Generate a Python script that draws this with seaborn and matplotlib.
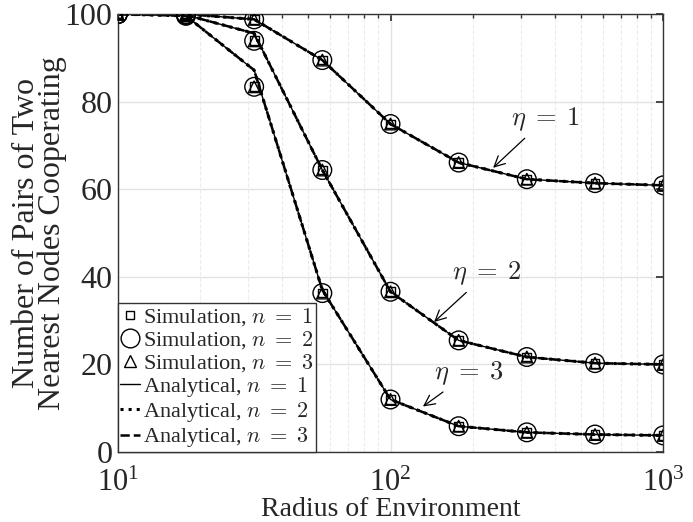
import numpy as np
import pandas as pd
import matplotlib
matplotlib.use("Agg")
import matplotlib.pyplot as plt
import seaborn as sns
from matplotlib.lines import Line2D

# ---- data ----
radius = [10, 17.78, 31.62, 56.23, 100, 177.8, 316.2, 562.3, 1000]
sim_eta1 = [100, 100, 98.8, 89.5, 74.9, 66.1, 62.3, 61.4, 60.9]
sim_eta2 = [100, 99.8, 93.9, 64.4, 36.6, 25.5, 21.7, 20.3, 20.0]
sim_eta3 = [100, 99.6, 83.4, 36.3, 12.0, 5.9, 4.5, 4.0, 3.8]
ana_eta1 = [100, 100, 98.8, 89.5, 74.9, 66.1, 62.3, 61.4, 60.9]
ana_eta2 = [100, 99.8, 95.6, 64.4, 36.6, 25.5, 21.7, 20.3, 20.0]
ana_eta3 = [100, 99.6, 87.2, 37.0, 12.0, 5.9, 4.5, 4.0, 3.8]
eta_labels = [r"$\eta\;=\;1$", r"$\eta\;=\;2$", r"$\eta\;=\;3$"]
sim_labels = [r"Simulation, $n\;=\;1$", r"Simulation, $n\;=\;2$", r"Simulation, $n\;=\;3$"]
ana_labels = [r"Analytical, $n\;=\;1$", r"Analytical, $n\;=\;2$", r"Analytical, $n\;=\;3$"]

sns.set_theme(style="white")
plt.rcParams['font.family'] = ['Liberation Serif', 'DejaVu Serif']
plt.rcParams['mathtext.fontset'] = 'cm'

fig = plt.figure(figsize=(6.93, 5.22), dpi=100)
ax = fig.add_axes([0.170, 0.134, 0.787, 0.839])

sims = [sim_eta1, sim_eta2, sim_eta3]
anas = [ana_eta1, ana_eta2, ana_eta3]
markers = ['s', 'o', '^']
msizes = [40, 180, 70]
lstyles = ['-', ':', '--']
lwidths = [1.0, 2.2, 1.8]

for s, a in zip(sims, anas):
    df_a = pd.DataFrame({'x': radius, 'y': a})
    for ls, lw in zip(lstyles, lwidths):
        sns.lineplot(data=df_a, x='x', y='y', ax=ax, color='black',
                     linestyle=ls, linewidth=lw, legend=False)
    df_s = pd.DataFrame({'x': radius, 'y': s})
    for m, ms in zip(markers, msizes):
        sns.scatterplot(data=df_s, x='x', y='y', ax=ax, marker=m, s=ms,
                        facecolor='none', edgecolor='black', linewidth=1.0,
                        legend=False, zorder=3)

ax.set_xscale('log')
ax.set_xlim(10, 1000)
ax.set_ylim(0, 100)
ax.set_yticks([0, 20, 40, 60, 80, 100])
ax.grid(True, which='major', color='#e3e3e3', linewidth=1.0, linestyle='-')
ax.grid(True, which='minor', color='#ececec', linewidth=0.8, linestyle='--')
ax.tick_params(axis='both', which='both', direction='in', top=True, right=True,
               color='#333333')
ax.tick_params(axis='y', which='major', pad=4, labelsize=23)
ax.tick_params(axis='x', which='major', pad=12, labelsize=22)
ax.tick_params(which='major', length=5)
ax.tick_params(which='minor', length=3)
for sp in ax.spines.values():
    sp.set_color('#333333')
    sp.set_linewidth(1.0)
ax.set_xlabel('Radius of Environment', fontsize=20)
ax.xaxis.set_label_coords(0.5, -0.103)
ax.set_ylabel('Number of Pairs of Two\nNearest Nodes Cooperating', fontsize=23,
              labelpad=-2, linespacing=0.85)

# annotations
ann = [((237.8, 64.9), (369, 76.0)),
       ((144.5, 29.7), (226, 40.8)),
       ((131.5, 10.4), (194, 18.0))]
for lab, (head, txt) in zip(eta_labels, ann):
    ax.annotate(lab, xy=head, xytext=txt, fontsize=19, ha='center', va='center',
                arrowprops=dict(arrowstyle='->', color='black', lw=0.9,
                                shrinkA=2, shrinkB=0))

handles = []
for m, ms, lab in zip(markers, [6, 13.5, 8.5], sim_labels):
    handles.append(Line2D([], [], marker=m, markersize=ms, markerfacecolor='none',
                          markeredgecolor='black', linestyle='none', label=lab))
for ls, lw, lab in zip(lstyles, lwidths, ana_labels):
    handles.append(Line2D([], [], color='black', linestyle=ls, linewidth=lw, label=lab))
leg = ax.legend(handles=handles, loc='lower left', bbox_to_anchor=(0, 0),
                fontsize=16, frameon=True, fancybox=False, handlelength=0.9,
                handletextpad=0.1, labelspacing=0.05, borderpad=0.12,
                borderaxespad=0.0, framealpha=1)
leg.get_frame().set_edgecolor('#333333')
leg.get_frame().set_linewidth(1.0)

fig.savefig('out.png', dpi=100)
